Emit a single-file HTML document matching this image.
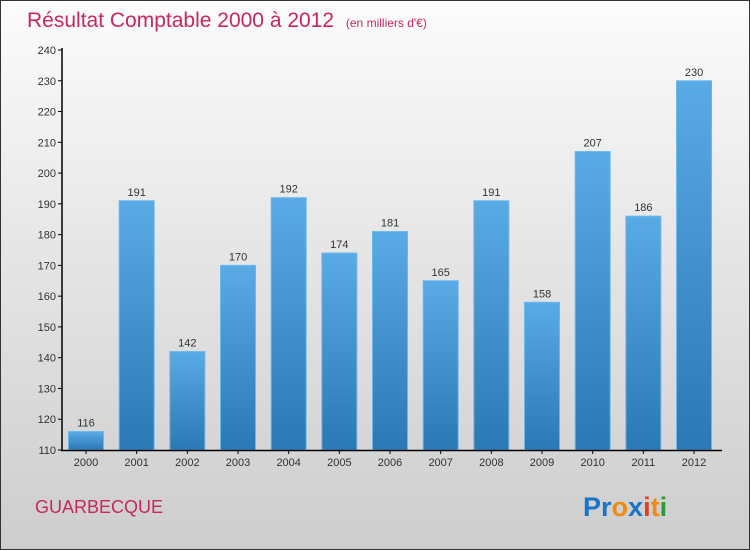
<!DOCTYPE html>
<html><head><meta charset="utf-8"><style>
body{margin:0}
#c{width:750px;height:550px;position:relative;box-sizing:border-box;border:1px solid #333;background:linear-gradient(#fcfcfc,#e6e6e6 45%,#cdcdcd);font-family:"Liberation Sans",sans-serif;overflow:hidden}
</style></head><body>
<div id="c">
<svg id="s" width="750" height="550" style="position:absolute;left:-1px;top:-1px">
<defs><linearGradient id="g" x1="0" y1="0" x2="0" y2="1"><stop offset="0" stop-color="#5aaae6"/><stop offset="1" stop-color="#2a78b4"/></linearGradient></defs>
<text x="27" y="27" font-size="21" fill="#c8285a">Résultat Comptable 2000 à 2012 <tspan font-size="12" dx="6">(en milliers d'€)</tspan></text>
<text x="35" y="513" font-size="18" fill="#c8285a">GUARBECQUE</text>
<text x="583" y="516" font-size="27" font-weight="bold"><tspan fill="#1a74c8">Pr</tspan><tspan fill="#f08a10">o</tspan><tspan fill="#1a74c8">x</tspan><tspan fill="#e04020">i</tspan><tspan fill="#f08a10">t</tspan><tspan fill="#2a9a3a">i</tspan></text>
</svg>
</div>
<script>
const years=["2000","2001","2002","2003","2004","2005","2006","2007","2008","2009","2010","2011","2012"];
const values=[116,191,142,170,192,174,181,165,191,158,207,186,230];
const ticks=[110,120,130,140,150,160,170,180,190,200,210,220,230,240];
const NS="http://www.w3.org/2000/svg",s=document.getElementById('s');
const y=v=>450-(v-110)*400/130, x=i=>86+i*50.67;
function el(t,a){const e=document.createElementNS(NS,t);for(const k in a)e.setAttribute(k,a[k]);s.appendChild(e);return e;}
ticks.forEach(t=>{
 const l=el('line',{x1:58,x2:62,y1:y(t),y2:y(t),stroke:'#000'});
 
 
 const tx=el('text',{x:56,y:y(t)+4,'font-size':11,'text-anchor':'end',fill:'#333'});tx.textContent=t;
 
 
});
values.forEach((v,i)=>{
 const r=el('rect',{x:x(i)-17.5,y:y(v),width:35,height:450-y(v),fill:'url(#g)',stroke:'#6ab8ee','stroke-width':1});
 
 
 const t=el('text',{x:x(i),y:y(v)-5,'font-size':11,'text-anchor':'middle',fill:'#333'});t.textContent=v;
 
 
 const k=el('line',{x1:x(i),x2:x(i),y1:450,y2:454,stroke:'#000'});
 
 
 const xl=el('text',{x:x(i),y:466,'font-size':11,'text-anchor':'middle',fill:'#333'});xl.textContent=years[i];
 
 
});
const ya=el('line',{x1:62,x2:62,y1:48,y2:451,stroke:'#000','stroke-width':1.5});


const xa=el('line',{x1:61,x2:722,y1:450.5,y2:450.5,stroke:'#000','stroke-width':1.5});


</script>
</body></html>
